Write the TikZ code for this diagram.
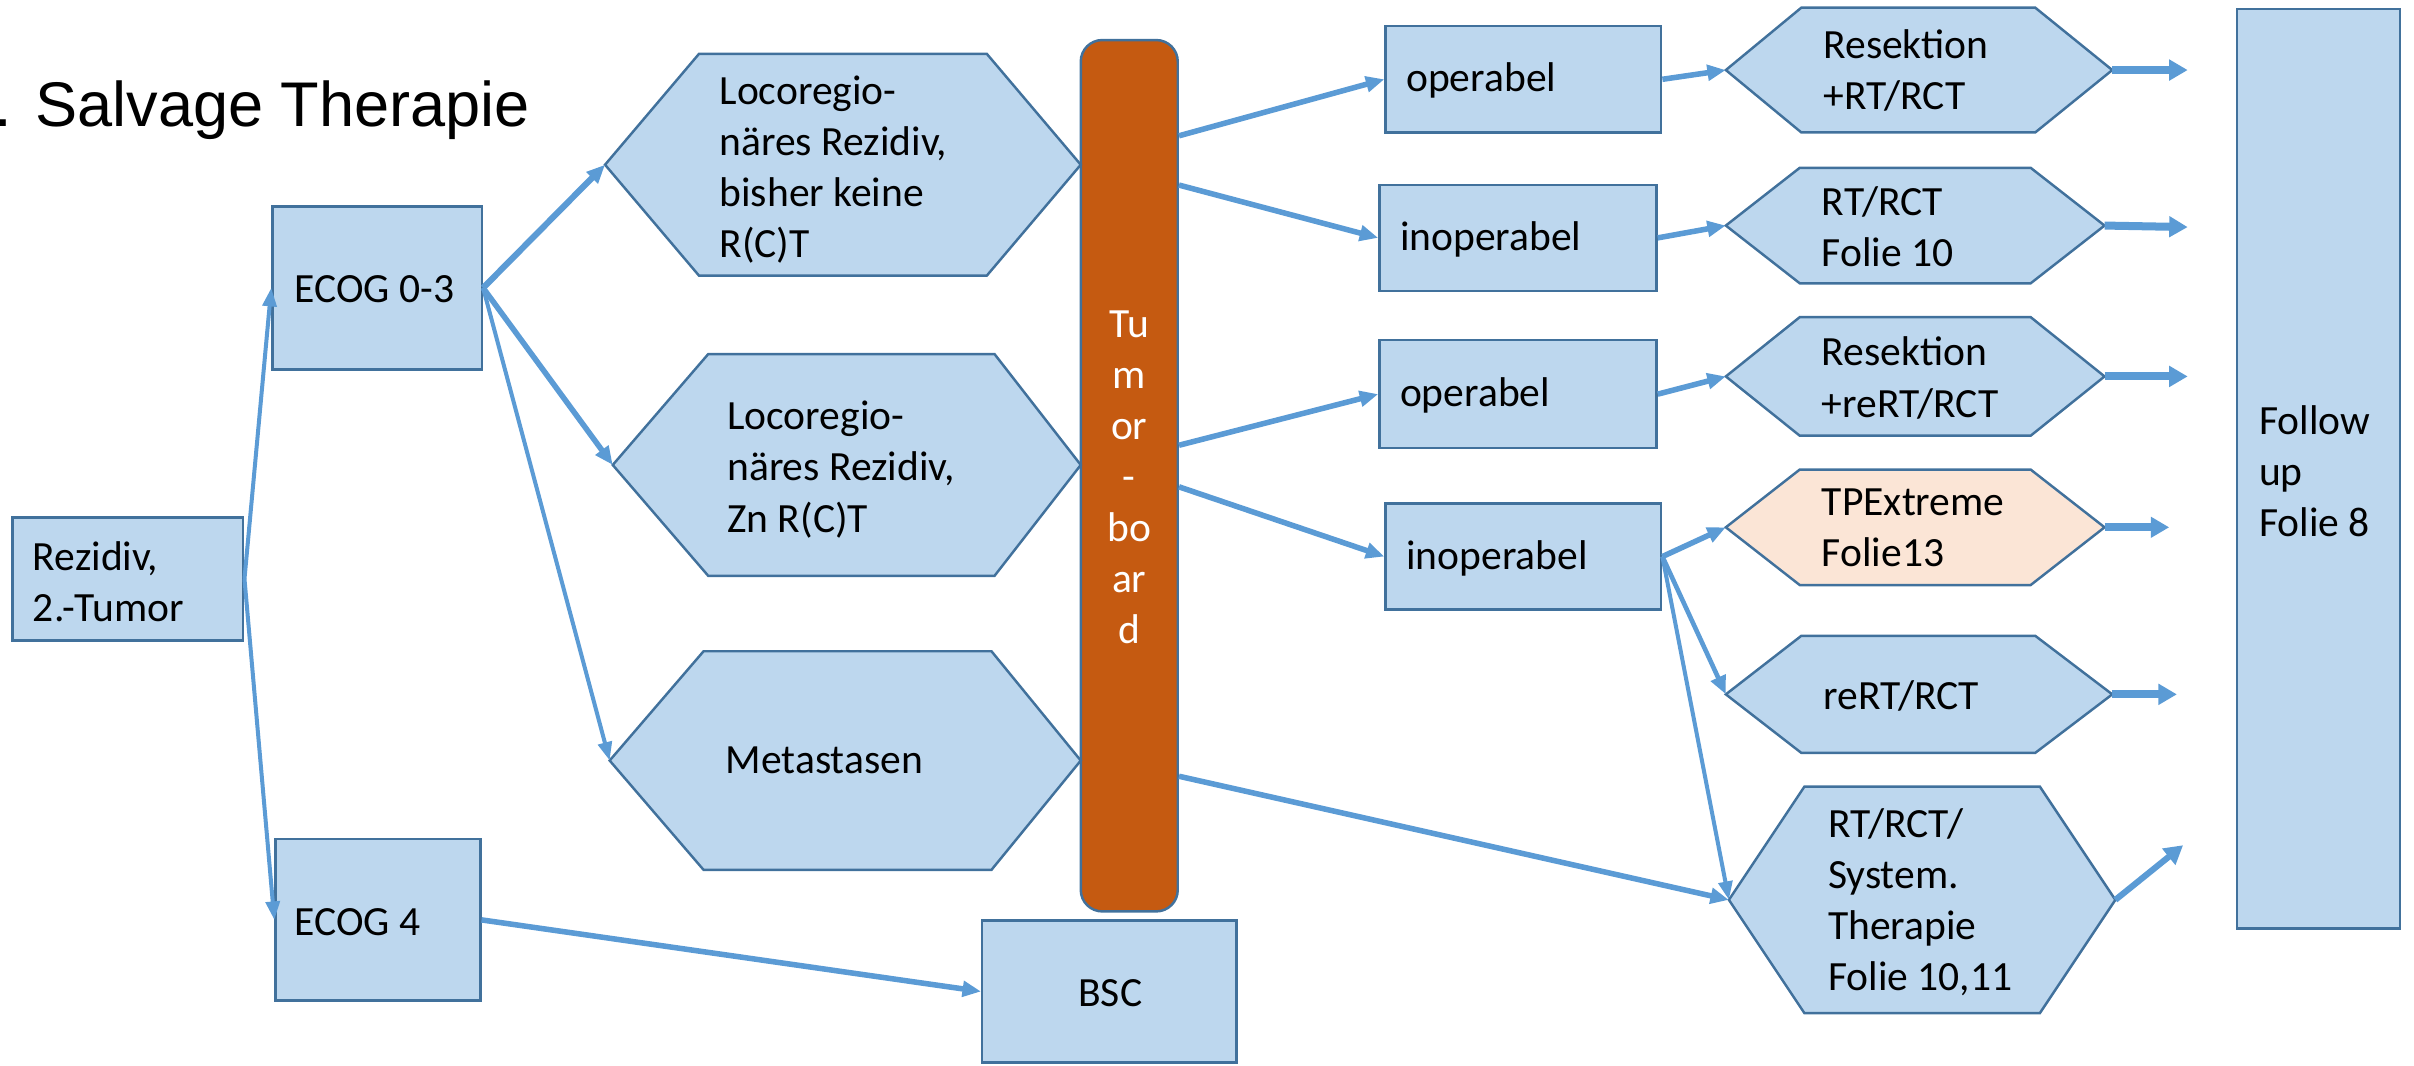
\documentclass[tikz,border=0pt]{standalone}
\usepackage{fontspec}
\setmainfont{Carlito}
\newfontfamily\titlefont{Liberation Sans}
\usetikzlibrary{arrows.meta,calc}
\definecolor{boxfill}{HTML}{BDD7EE}
\definecolor{boxline}{HTML}{41719C}
\definecolor{arrcol}{HTML}{5B9BD5}
\definecolor{tbfill}{HTML}{C55A11}
\definecolor{peach}{HTML}{FBE5D6}
\newcommand\mybox[6]{\node[#6, minimum width={(#4-#2)*0.5pt}, minimum height={(#5-#3)*0.5pt}, inner sep=0pt] (#1) at ({(#2+#4)/2},{(#3+#5)/2}) {};}
\newcommand\myhex[8]{%
  \draw[#2] (#3,{(#7+#8)/2}) -- (#4,#7) -- (#5,#7) -- (#6,{(#7+#8)/2}) -- (#5,#8) -- (#4,#8) -- cycle;
  \coordinate (#1-w) at (#3,{(#7+#8)/2});
  \coordinate (#1-e) at (#6,{(#7+#8)/2});}
\tikzset{
  bluebox/.style={draw=boxline, fill=boxfill, line width=0.8pt},
  peachbox/.style={draw=boxline, fill=peach, line width=0.8pt},
  txt/.style={inner sep=0pt, anchor=west, align=left, font=\fontsize{13.5}{16.6}\selectfont},
  arrthin/.style={draw=arrcol, line width=1.3pt, -{Triangle[length=6pt,width=4.5pt]}},
  arrmed/.style={draw=arrcol, line width=1.8pt, -{Triangle[length=6pt,width=5pt]}},
  arrout/.style={draw=arrcol, line width=2.6pt, -{Triangle[length=6pt,width=6.5pt]}}
}
\begin{document}
\begin{tikzpicture}[x=0.5pt,y=-0.5pt]
\useasboundingbox (0,0) rectangle (1568,692);
% title
\node[anchor=base west, inner sep=0pt, font=\titlefont\fontsize{20.5}{25}\selectfont] (title) at (-4,82) {. Salvage Therapie};
% boxes
\mybox{rez}{8}{336}{158}{416}{bluebox}
\mybox{ecog03}{177}{134}{313}{240}{bluebox}
\mybox{ecog4}{179}{545}{312}{650}{bluebox}
\mybox{bsc}{638}{598}{803}{690}{bluebox}
\mybox{op1}{900}{17}{1079}{86}{bluebox}
\mybox{inop1}{896}{120}{1076}{189}{bluebox}
\mybox{op2}{896}{221}{1076}{291}{bluebox}
\mybox{inop2}{900}{327}{1079}{396}{bluebox}
\mybox{fu}{1453}{6}{1559}{603}{bluebox}
\node[draw=boxline, fill=tbfill, line width=0.8pt, rounded corners=7pt, minimum width=31.5pt, minimum height=283pt, inner sep=0pt] (tb) at (733.5,309) {};
% hexagons
\myhex{h1}{bluebox}{393}{454}{641}{702}{35}{179}
\myhex{h2}{bluebox}{398}{460}{646}{702}{230}{374}
\myhex{h3}{bluebox}{396}{457}{644}{702}{423}{565}
\myhex{r1}{bluebox}{1121}{1170}{1322}{1372}{5}{86}
\myhex{r2}{bluebox}{1121}{1169}{1319}{1367}{109}{184}
\myhex{r3}{bluebox}{1121}{1169}{1319}{1367}{206}{283}
\myhex{r4}{peachbox}{1121}{1169}{1319}{1367}{305}{380}
\myhex{r5}{bluebox}{1121}{1170}{1322}{1372}{413}{489}
\myhex{r6}{bluebox}{1123}{1172}{1325}{1374}{511}{658}
% texts
\node[txt] (trez) at (21,378) {Rezidiv,\\2.-Tumor};
\node[txt] (tecog03) at (191,188) {ECOG 0-3};
\node[txt] (tecog4) at (191,599) {ECOG 4};
\node[txt] (th1) at (467,110) {Locoregio-\\näres Rezidiv,\\bisher keine\\R(C)T};
\node[txt] (th2) at (472,305) {Locoregio-\\näres Rezidiv,\\Zn R(C)T};
\node[txt] (th3) at (471,494) {Metastasen};
\node[txt] (tbsc) at (700,645) {BSC};
\node[txt] (top1) at (913,52.5) {operabel};
\node[txt] (tinop1) at (909,155.5) {inoperabel};
\node[txt] (top2) at (909,257) {operabel};
\node[txt] (tinop2) at (913,362.5) {inoperabel};
\node[txt] (tr1) at (1184,46) {Resektion\\+RT/RCT};
\node[txt] (tr2) at (1183,147) {RT/RCT\\Folie 10};
\node[txt] (tr3) at (1183,245.5) {Resektion\\+reRT/RCT};
\node[txt] (tr4) at (1183,343) {TPExtreme\\Folie13};
\node[txt] (tr5) at (1184,452) {reRT/RCT};
\node[txt] (tr6) at (1187,586) {RT/RCT/\\System.\\Therapie\\Folie 10,11};
\node[txt] (tfu) at (1467,306) {Follow\\up\\Folie 8};
\node[txt, anchor=center, align=center, text=white] (ttb) at (733.5,310) {Tu\\m\\or\\-\\bo\\ar\\d};
% connectors
\draw[arrthin] (rez.east) -- (ecog03.west);
\draw[arrthin] (rez.east) -- (ecog4.west);
\draw[arrmed, line width=2pt] (ecog03.east) -- (h1-w);
\draw[arrmed] (ecog03.east) -- (h2-w);
\draw[arrthin] (ecog03.east) -- (h3-w);
\draw[arrmed] (ecog4.east) -- (bsc.west);
\draw[arrmed] ($(tb.north east)+(0,63)$) -- (op1.west);
\draw[arrmed] ($(tb.north east)+(0,95)$) -- (inop1.west);
\draw[arrmed] ($(tb.north east)+(0,264)$) -- (op2.west);
\draw[arrmed] ($(tb.north east)+(0,291)$) -- (inop2.west);
\draw[arrmed] ($(tb.north east)+(0,479)$) -- (r6-w);
\draw[arrmed] (op1.east) -- (r1-w);
\draw[arrmed] (inop1.east) -- (r2-w);
\draw[arrmed] (op2.east) -- (r3-w);
\draw[arrmed] (inop2.east) -- (r4-w);
\draw[arrmed, line width=1.5pt] (inop2.east) -- (r5-w);
\draw[arrthin] (inop2.east) -- (r6-w);
% outputs
\coordinate (o1) at (1421,45.5);
\coordinate (o2) at (1421,147.5);
\coordinate (o3) at (1421,244.5);
\coordinate (o4) at (1409,342.5);
\coordinate (o5) at (1414,451);
\coordinate (o6) at (1418,549);
\draw[arrout] (r1-e) -- (o1);
\draw[arrout] (r2-e) -- (o2);
\draw[arrout] (r3-e) -- (o3);
\draw[arrout] (r4-e) -- (o4);
\draw[arrout] (r5-e) -- (o5);
\draw[arrout, line width=2pt] (r6-e) -- (o6);
\end{tikzpicture}
\end{document}
